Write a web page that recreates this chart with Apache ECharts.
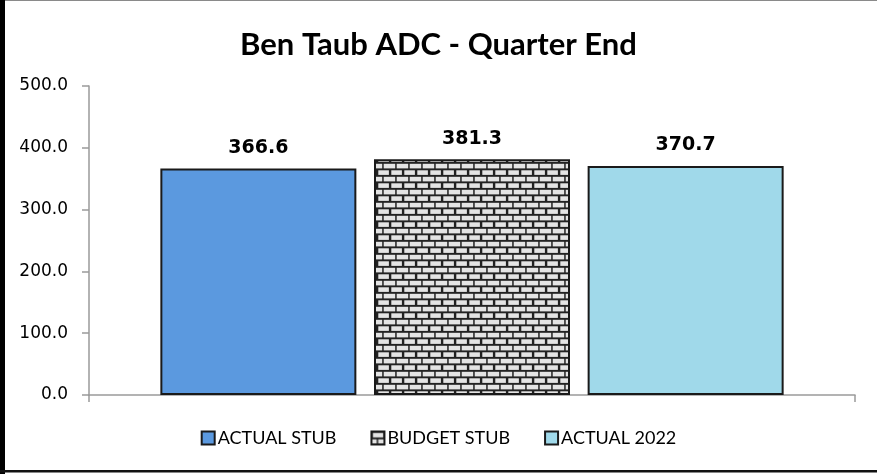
<!DOCTYPE html>
<html><head><meta charset="utf-8">
<script src="https://cdn.jsdelivr.net/npm/echarts@6/dist/echarts.min.js"></script>
<style>html,body{margin:0;padding:0;background:#fff}#c{width:877px;height:474px}</style>
</head><body><div id="c"></div>
<script>
const categories = ['Quarter End'];
const seriesNames = ['ACTUAL STUB', 'BUDGET STUB', 'ACTUAL 2022'];
const actualStub = [366.6];
const budgetStub = [381.3];
const actual2022 = [370.7];
const yTicks = [0, 100, 200, 300, 400, 500];

function brick() {
  const c = document.createElement('canvas');
  c.width = 13; c.height = 13;
  const g = c.getContext('2d');
  g.fillStyle = '#222'; g.fillRect(0, 0, 13, 13);
  g.fillStyle = '#e4e4e4';
  g.fillRect(1.3, 1.3, 10.6, 4.6);
  g.fillRect(0, 7.8, 5.2, 4.6);
  g.fillRect(6.7, 7.8, 6.3, 4.6);
  return c;
}
const pat = { image: brick(), repeat: 'repeat' };

const chart = echarts.init(document.getElementById('c'), null, { renderer: 'canvas' });
const label = { show: true, position: 'top', distance: 11, color: '#000', fontFamily: 'DejaVu Sans', fontWeight: 'bold', fontSize: 19, formatter: p => p.value.toFixed(1) };
const base = { type: 'bar', barWidth: 196, barGap: '9%', label };
chart.setOption({
  animation: false,
  title: { text: 'Ben Taub ADC - Quarter End', left: 'center', top: 24, textStyle: { fontFamily: 'Lato', fontWeight: 'bold', fontSize: 31, color: '#000' } },
  grid: { left: 89, right: 22, top: 86, bottom: 79 },
  legend: {
    bottom: 22, left: 'center', itemWidth: 13, itemHeight: 13, itemGap: 34, icon: 'rect',
    textStyle: { fontFamily: 'Lato', fontSize: 18, color: '#000', padding: [0, 0, 0, -2] },
    data: seriesNames
  },
  xAxis: {
    type: 'category', data: categories,
    axisLine: { lineStyle: { color: '#9a9a9a', width: 1.5 } },
    axisTick: { show: true, length: 7, lineStyle: { color: '#9a9a9a', width: 1.5 } },
    axisLabel: { show: false }
  },
  yAxis: {
    type: 'value', min: yTicks[0], max: yTicks[yTicks.length - 1], interval: 100,
    axisLine: { show: true, lineStyle: { color: '#9a9a9a', width: 1.5 } },
    axisTick: { show: true, length: 7, lineStyle: { color: '#9a9a9a', width: 1.5 } },
    splitLine: { show: false },
    axisLabel: { margin: 21, fontFamily: 'DejaVu Sans', fontSize: 17, color: '#000', formatter: v => v.toFixed(1) }
  },
  series: [
    Object.assign({}, base, { name: seriesNames[0], data: actualStub, itemStyle: { color: '#5b99df', borderColor: '#1a1a1a', borderWidth: 2 } }),
    Object.assign({}, base, { name: seriesNames[1], data: budgetStub, itemStyle: { color: pat, borderColor: '#1a1a1a', borderWidth: 2 } }),
    Object.assign({}, base, { name: seriesNames[2], data: actual2022, itemStyle: { color: '#a0d9ea', borderColor: '#1a1a1a', borderWidth: 2 } })
  ],
  graphic: [
    { type: 'rect', shape: { x: 0, y: 0, width: 877, height: 1 }, style: { fill: '#8a8a8a' } },
    { type: 'rect', shape: { x: 0, y: 0, width: 5, height: 474 }, style: { fill: '#000' } },
    { type: 'rect', shape: { x: 0, y: 470, width: 877, height: 2.5 }, style: { fill: '#111' } }
  ]
});
</script></body></html>
